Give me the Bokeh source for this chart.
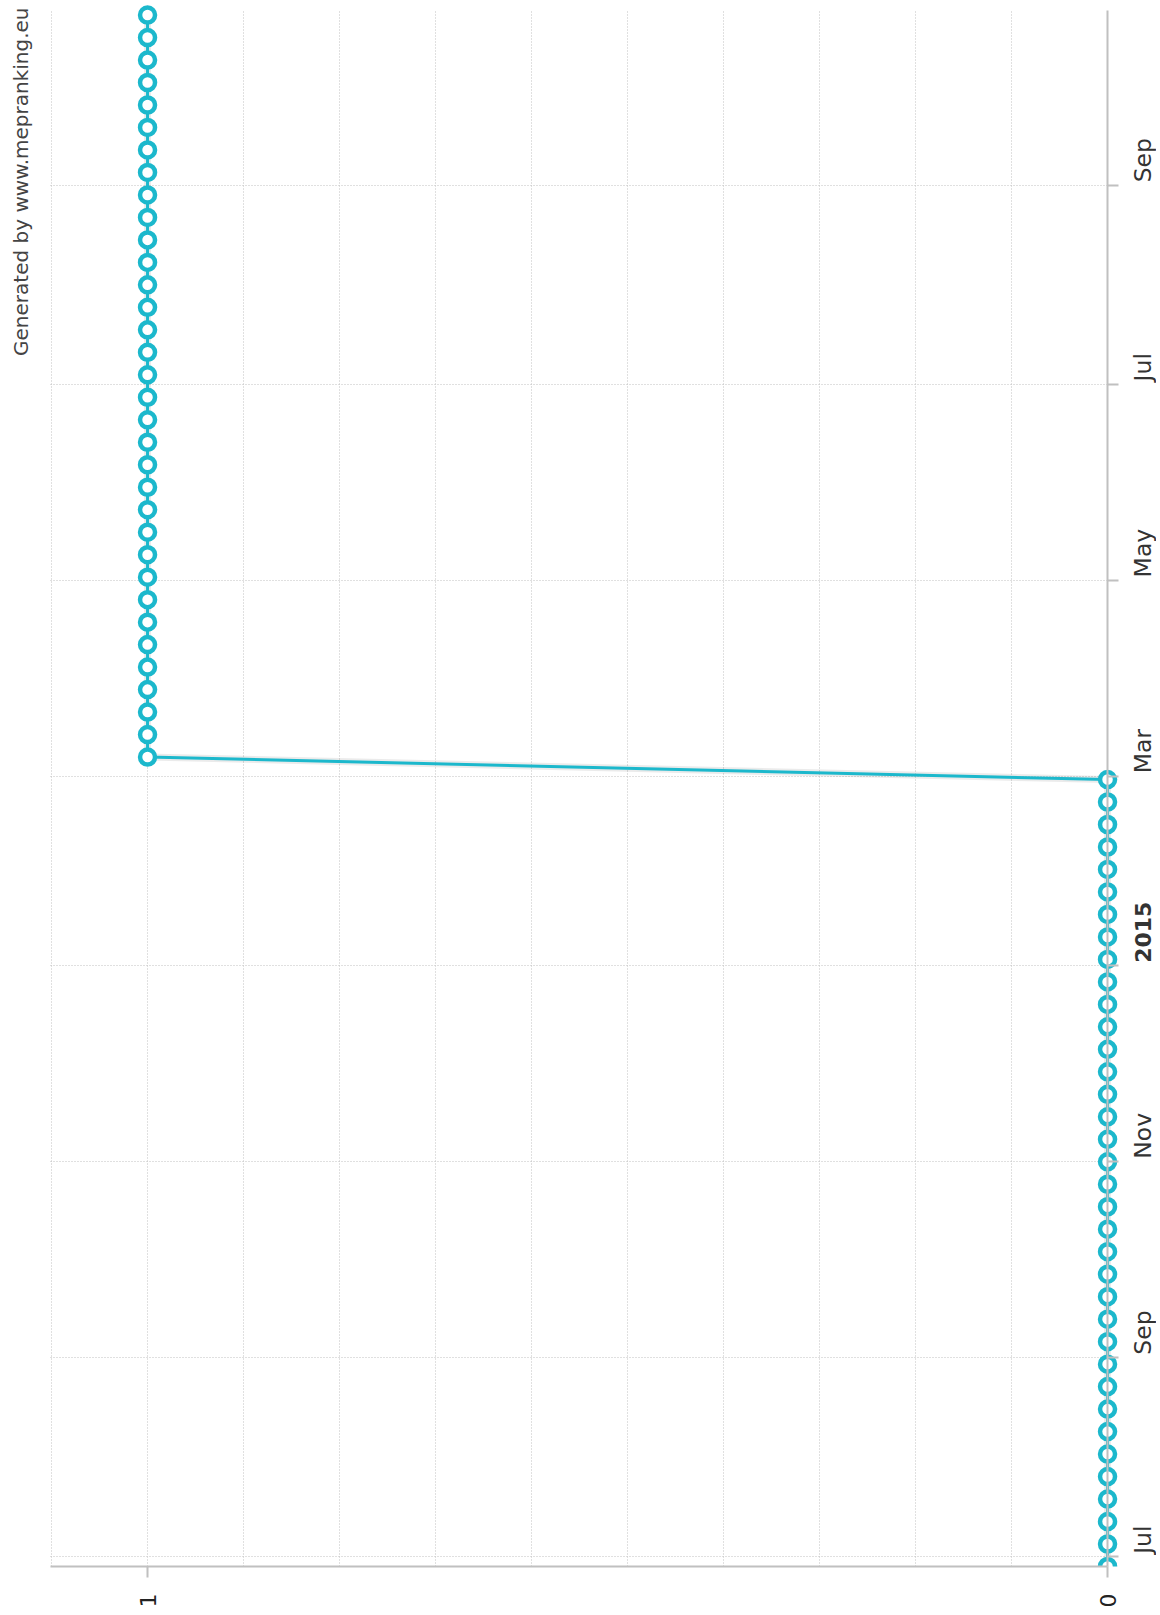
from math import pi
import pandas as pd
from bokeh.plotting import figure
from bokeh.models import (Range1d, FixedTicker, SingleIntervalTicker,
                          ColumnDataSource)
from bokeh.core.properties import value
from bokeh.embed import file_html
from bokeh.resources import INLINE

# ---------------- data ----------------
dates = [
    "2014-06-28", "2014-07-05", "2014-07-12", "2014-07-19", "2014-07-26",
    "2014-08-02", "2014-08-09", "2014-08-16", "2014-08-23", "2014-08-30",
    "2014-09-06", "2014-09-13", "2014-09-20", "2014-09-27",
    "2014-10-04", "2014-10-11", "2014-10-18", "2014-10-25",
    "2014-11-01", "2014-11-08", "2014-11-15", "2014-11-22", "2014-11-29",
    "2014-12-06", "2014-12-13", "2014-12-20", "2014-12-27",
    "2015-01-03", "2015-01-10", "2015-01-17", "2015-01-24", "2015-01-31",
    "2015-02-07", "2015-02-14", "2015-02-21", "2015-02-28",
    "2015-03-07", "2015-03-14", "2015-03-21", "2015-03-28",
    "2015-04-04", "2015-04-11", "2015-04-18", "2015-04-25",
    "2015-05-02", "2015-05-09", "2015-05-16", "2015-05-23", "2015-05-30",
    "2015-06-06", "2015-06-13", "2015-06-20", "2015-06-27",
    "2015-07-04", "2015-07-11", "2015-07-18", "2015-07-25",
    "2015-08-01", "2015-08-08", "2015-08-15", "2015-08-22", "2015-08-29",
    "2015-09-05", "2015-09-12", "2015-09-19", "2015-09-26",
    "2015-10-03", "2015-10-10", "2015-10-17", "2015-10-24",
]
values = [
    0, 0, 0, 0, 0,
    0, 0, 0, 0, 0,
    0, 0, 0, 0,
    0, 0, 0, 0,
    0, 0, 0, 0, 0,
    0, 0, 0, 0,
    0, 0, 0, 0, 0,
    0, 0, 0, 0,
    1, 1, 1, 1,
    1, 1, 1, 1,
    1, 1, 1, 1, 1,
    1, 1, 1, 1,
    1, 1, 1, 1,
    1, 1, 1, 1, 1,
    1, 1, 1, 1,
    1, 1, 1, 1,
]
time_ticks = ["2014-07-01", "2014-09-01", "2014-11-01", "2015-01-01",
              "2015-03-01", "2015-05-01", "2015-07-01", "2015-09-01"]
time_tick_labels = ["Jul", "Sep", "Nov", "2015", "Mar", "May", "Jul", "Sep"]
value_ticks = [0, 1]
value_tick_labels = ["0", "1"]
credit_text = "Generated by www.mepranking.eu"

# ---------------- styling ----------------
FONT = "DejaVu Sans"
SERIES = "#1cb8cc"
AXIS = "#c0c0c0"
GRID = "#c0c0c0"
LABEL = "#333333"


def ms(t):
    return t.value / 1e6


dt = pd.to_datetime(dates)
tick_dt = pd.to_datetime(time_ticks)
tick_ms = [ms(t) for t in tick_dt]

# plot area (where axes and grid are drawn) vs. the wider canvas frame
v_lo, v_hi = 0.0, 1.101
t_lo = dt[0]
t_hi = dt[-1] + pd.Timedelta(hours=34)

src = ColumnDataSource(dict(v=values, d=dt))

p = figure(frame_width=1152, frame_height=1566,
           x_range=Range1d(1.149, -0.051),
           y_range=Range1d(t_lo, t_lo + pd.Timedelta(days=487.53)),
           y_axis_type="datetime", y_axis_location="left",
           output_backend="svg", toolbar_location=None,
           min_border_left=4, min_border_right=0,
           min_border_top=0, min_border_bottom=45,
           background_fill_color="white", border_fill_color="white")
p.outline_line_color = None

# value axis (bottom)
xa = p.xaxis[0]
xa.ticker = FixedTicker(ticks=value_ticks)
xa.bounds = (v_lo, v_hi)
xa.major_label_overrides = {t: l for t, l in zip(value_ticks, value_tick_labels)}
xa.major_label_orientation = pi / 2
xa.major_label_text_font = FONT
xa.major_label_text_font_size = "22px"
xa.major_label_text_color = "#222222"
xa.major_label_standoff = 16
xa.axis_line_color = AXIS
xa.axis_line_width = 2
xa.major_tick_line_color = AXIS
xa.major_tick_line_width = 2
xa.major_tick_in = 0
xa.major_tick_out = 11
xa.minor_tick_line_color = None
xa.minor_tick_out = 0

# time axis, drawn at value 0 with ticks pointing right
ya = p.yaxis[0]
ya.ticker = FixedTicker(ticks=tick_ms)
ya.fixed_location = 0
ya.bounds = (ms(t_lo), ms(t_hi))
ya.major_label_overrides = {t: "" for t in tick_ms}
ya.major_label_text_alpha = 0
ya.major_label_text_font_size = "0px"
ya.major_label_standoff = 0
ya.axis_line_color = AXIS
ya.axis_line_width = 2
ya.major_tick_line_color = AXIS
ya.major_tick_line_width = 2
ya.major_tick_in = 11
ya.major_tick_out = 0
ya.minor_tick_line_color = None
ya.minor_tick_in = 0
ya.minor_tick_out = 0

# grids, kept inside the plot area
p.xgrid.ticker = SingleIntervalTicker(interval=0.1, num_minor_ticks=0)
p.xgrid.bounds = (0.05, v_hi)
p.xgrid.cross_bounds = (ms(t_lo), ms(t_hi))
p.ygrid.cross_bounds = (v_lo, v_hi)
for g in (p.xgrid[0], p.ygrid[0]):
    g.grid_line_color = GRID
    g.grid_line_dash = "1 2"
    g.grid_line_width = 1

# series: shadow, line, markers
p.line("v", "d", source=src, line_color="black", line_alpha=0.08, line_width=7)
p.line("v", "d", source=src, line_color=SERIES, line_width=3)
p.scatter("v", "d", source=src, marker="circle", size=15,
          line_color=SERIES, line_width=4.5, fill_color="white")

# rotated time tick labels, starting just above each tick (years in bold)
is_year = [s.isdigit() for s in time_tick_labels]
lab_src = ColumnDataSource(dict(
    d=tick_dt, t=time_tick_labels,
    style=["bold" if y else "normal" for y in is_year],
    size=["22px" if y else "23.5px" for y in is_year]))
p.text(x=0, y="d", text="t", source=lab_src,
       angle=pi / 2, text_align="left", text_baseline="alphabetic",
       x_offset=35, y_offset=-3,
       text_font=value(FONT), text_font_size="size",
       text_font_style="style", text_color=LABEL)

# credits, rotated, top-left corner
p.text(x=[p.x_range.start], y=[p.y_range.end], text=[credit_text],
       angle=pi / 2, text_align="right", text_baseline="alphabetic",
       x_offset=16, y_offset=7,
       text_font=value(FONT), text_font_size=value("20px"),
       text_color="#444444")

open("out.html", "w").write(file_html(p, INLINE))
